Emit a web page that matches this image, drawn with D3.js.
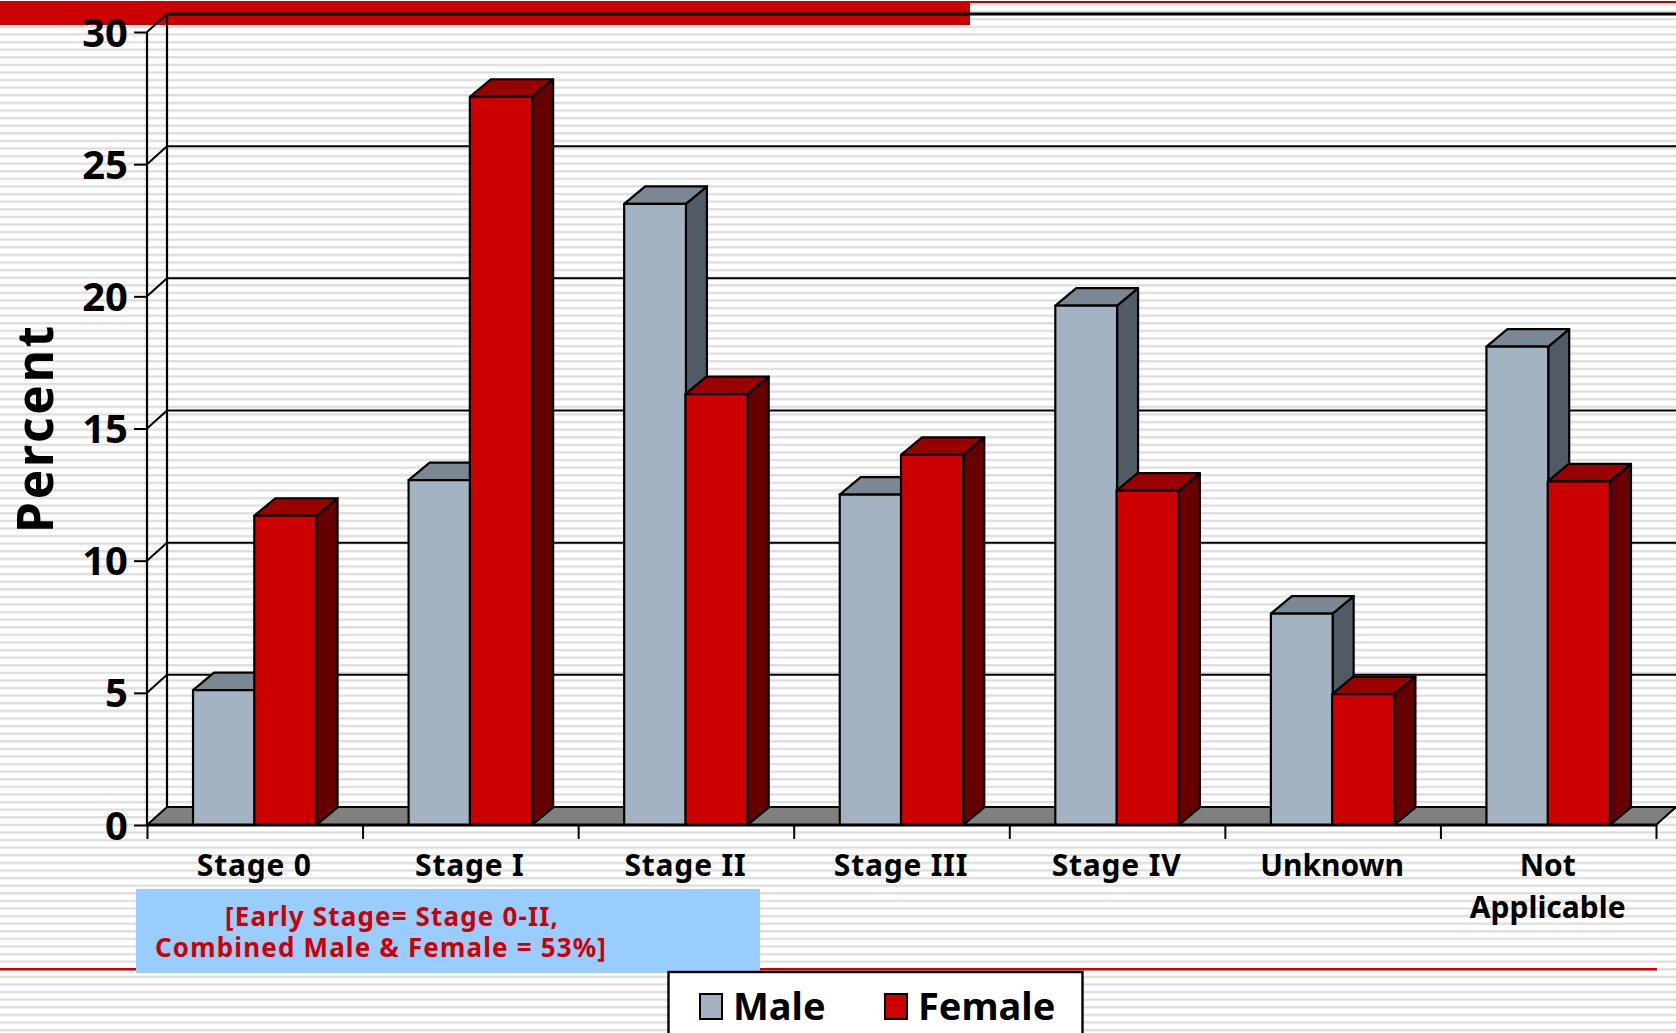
<!DOCTYPE html>
<html>
<head>
<meta charset="utf-8">
<script src="https://cdn.jsdelivr.net/npm/d3@7"></script>
<style>
html,body{margin:0;padding:0;background:#fff;overflow:hidden}
svg{display:block}
text{font-family:"Noto Sans",Tahoma,sans-serif;font-weight:700;fill:#000}
</style>
</head>
<body>
<svg id="chart" width="1676" height="1033"></svg>
<script>
const categories = ["Stage 0","Stage I","Stage II","Stage III","Stage IV","Unknown","Not Applicable"];
const seriesNames = ["Male","Female"];
const maleValues = [5.1,13.05,23.5,12.5,19.65,8.0,18.1];
const femaleValues = [11.7,27.55,16.3,14.0,12.65,4.95,13.0];
const yTicks = [0,5,10,15,20,25,30];

const W = 1676, H = 1033;
const wallDepth = {dx:20, dy:-18};
const barDepth = {dx:21, dy:-17.5};
const plot = {left:147, right:1656, top:32, bottom:825};
const palette = {
  Male:{front:"#a3b3c2", top:"#7b8894", side:"#515b66"},
  Female:{front:"#cc0000", top:"#990000", side:"#660000"}
};

const svg = d3.select("#chart");

// Ruled slide background
const defs = svg.append("defs");
const rule = defs.append("pattern").attr("id","rule").attr("patternUnits","userSpaceOnUse")
  .attr("width",8).attr("height",7.6).attr("y",0);
rule.append("rect").attr("width",8).attr("height",7.6).attr("fill","#fff");
rule.append("rect").attr("y",3).attr("width",8).attr("height",2.2).attr("fill","#dcdcdc");
svg.append("rect").attr("width",W).attr("height",H).attr("fill","url(#rule)");

// Slide furniture: red bands
svg.append("rect").attr("x",0).attr("y",1).attr("width",970).attr("height",24).attr("fill","#cc0000");
svg.append("rect").attr("x",970).attr("y",1).attr("width",706).attr("height",2).attr("fill","#cc0000");
svg.append("rect").attr("x",0).attr("y",968).attr("width",1657).attr("height",2.5).attr("fill","#cc0000");

const y = d3.scaleLinear().domain([0,30]).range([plot.bottom,plot.top]);
const x = d3.scaleBand().domain(categories).range([plot.left,plot.right]).paddingInner(0.427).paddingOuter(0.2135);
const xSeries = d3.scaleBand().domain(seriesNames).range([0,x.bandwidth()]);

// Floor of the 3D box
svg.append("polygon")
  .attr("points",[[plot.left,plot.bottom],[plot.left+wallDepth.dx,plot.bottom+wallDepth.dy],[W+2,plot.bottom+wallDepth.dy],[plot.right,plot.bottom]].join(" "))
  .attr("fill","#808080");

// Back-wall gridlines and side-wall connectors
const walls = svg.append("g").attr("stroke","#000").attr("fill","none");
yTicks.forEach(t=>{
  walls.append("line").attr("x1",plot.left+wallDepth.dx).attr("x2",W)
    .attr("y1",y(t)+wallDepth.dy).attr("y2",y(t)+wallDepth.dy).attr("stroke-width",t===30?3:2);
  walls.append("line").attr("x1",plot.left).attr("x2",plot.left+wallDepth.dx)
    .attr("y1",y(t)).attr("y2",y(t)+wallDepth.dy).attr("stroke-width",2);
});
walls.append("line").attr("x1",plot.left).attr("x2",plot.left).attr("y1",plot.top).attr("y2",plot.bottom).attr("stroke-width",2.2);
walls.append("line").attr("x1",plot.left+wallDepth.dx).attr("x2",plot.left+wallDepth.dx).attr("y1",plot.top+wallDepth.dy).attr("y2",plot.bottom+wallDepth.dy).attr("stroke-width",2.2);
walls.append("line").attr("x1",plot.right).attr("x2",W).attr("y1",plot.bottom).attr("y2",plot.bottom+wallDepth.dy).attr("stroke-width",2);

// Bars: front, top and side faces. The male front is drawn first, so the
// female bar sits slightly over its right edge.
const rows = categories.map((c,i)=>({c,Male:maleValues[i],Female:femaleValues[i]}));
const bars = svg.append("g").attr("stroke","#000").attr("stroke-width",2.2).attr("stroke-linejoin","round");
rows.forEach(row=>{
  seriesNames.forEach(s=>{
    const x0 = x(row.c)+xSeries(s)-(s==="Female"?0.5:0), x1 = x(row.c)+xSeries(s)+xSeries.bandwidth();
    const y0 = y(row[s]), yb = y(0), d = barDepth, col = palette[s];
    bars.append("polygon").attr("fill",col.side)
      .attr("points",[[x1,y0],[x1+d.dx,y0+d.dy],[x1+d.dx,yb+d.dy],[x1,yb]].join(" "));
    bars.append("polygon").attr("fill",col.top)
      .attr("points",[[x0,y0],[x0+d.dx,y0+d.dy],[x1+d.dx,y0+d.dy],[x1,y0]].join(" "));
    bars.append("rect").attr("fill",col.front).attr("x",x0).attr("y",y0).attr("width",x1-x0).attr("height",yb-y0);
  });
});

// Value axis
const yAxis = d3.axisLeft(y).tickValues(yTicks).tickSize(13).tickPadding(6).tickFormat(d3.format("d"));
const yG = svg.append("g").attr("transform",`translate(${plot.left},0)`).call(yAxis);
yG.select(".domain").remove();
yG.selectAll("line").attr("stroke","#000").attr("stroke-width",2);
yG.selectAll("text").style("font-size","40px").attr("dy","0.35em");

// Category axis with ticks at band edges
const edges = d3.range(categories.length+1).map(i=>plot.left+i*x.step());
const edgeScale = d3.scaleLinear().domain([plot.left,plot.right]).range([plot.left,plot.right]);
const xAxis = d3.axisBottom(edgeScale).tickValues(edges).tickSize(14).tickFormat("");
const xG = svg.append("g").attr("transform",`translate(0,${plot.bottom})`).call(xAxis);
xG.selectAll("text").remove();
xG.select(".domain").attr("stroke","#000").attr("stroke-width",3).attr("d",`M${plot.left},0H${plot.right}`);
xG.selectAll("line").attr("stroke","#000").attr("stroke-width",2);

// Category labels; the last one wraps onto two lines
svg.append("g").selectAll("text").data(categories).join("text")
  .attr("text-anchor","middle").style("font-size","30px")
  .style("letter-spacing",c=>c.startsWith("Stage")?"0.8px":"0px")
  .each(function(c){
    const words = c==="Not Applicable" ? c.split(" ") : [c];
    const cx = x(c)+x.bandwidth()/2-0.5;
    d3.select(this).selectAll("tspan").data(words).join("tspan")
      .attr("x",cx).attr("y",(w,i)=>876+i*42).text(w=>w);
  });

// Axis title
svg.append("text").attr("transform","translate(53,428) rotate(-90)")
  .attr("text-anchor","middle").style("font-size","49.5px").style("letter-spacing","2.8px").text("Percent");

// Annotation box
svg.append("rect").attr("x",136).attr("y",889).attr("width",624).attr("height",84).attr("fill","#99ccff");
const noteStyle = sel => sel.style("font-size","26px").style("fill","#cc0000").style("letter-spacing","1.15px");
svg.append("text").call(noteStyle).attr("x",225).attr("y",926).text("[Early Stage= Stage 0-II,");
svg.append("text").call(noteStyle).attr("x",155).attr("y",957).text("Combined Male & Female = 53%]");

// Legend
const legend = svg.append("g");
legend.append("rect").attr("x",668.5).attr("y",972).attr("width",414).attr("height",70).attr("fill","#fff").attr("stroke","#000").attr("stroke-width",2.4);
const legendX = d3.scaleOrdinal().domain(seriesNames).range([700,885]);
seriesNames.forEach(s=>{
  legend.append("rect").attr("x",legendX(s)).attr("y",994).attr("width",22).attr("height",25)
    .attr("fill",palette[s].front).attr("stroke","#000").attr("stroke-width",2);
  legend.append("text").attr("x",legendX(s)+33).attr("y",1020).style("font-size","38px").text(s);
});
</script>
</body>
</html>
